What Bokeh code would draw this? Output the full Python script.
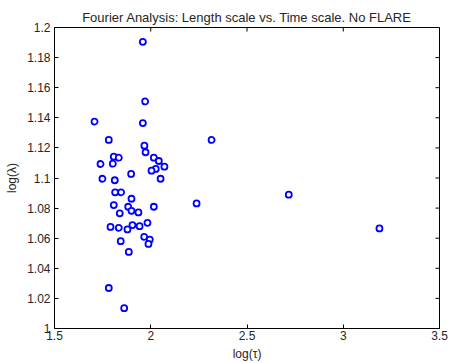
import math
from bokeh.plotting import figure
from bokeh.models import Range1d, FixedTicker, Title
from bokeh.embed import file_html
from bokeh.resources import INLINE

log_tau = [1.959, 1.971, 1.708, 1.959, 1.782, 2.316, 1.967, 1.973, 1.739, 1.808,
           1.834, 1.803, 2.016, 2.042, 2.071, 2.026, 2.004, 1.749, 1.813, 1.898,
           2.051, 1.815, 1.846, 1.900, 1.808, 1.883, 2.016, 2.238, 1.900, 1.839,
           1.936, 1.791, 1.834, 1.879, 1.905, 1.942, 1.983, 1.966, 1.995, 1.988,
           1.844, 1.886, 1.782, 1.862, 2.717, 3.188]
log_lambda = [1.1905, 1.1509, 1.1375, 1.1365, 1.1253, 1.1253, 1.1215, 1.1171, 1.1093, 1.1142,
              1.1135, 1.1095, 1.1135, 1.1113, 1.1075, 1.1060, 1.1049, 1.0995, 1.0985, 1.1027,
              1.0995, 1.0905, 1.0905, 1.0862, 1.0820, 1.0809, 1.0809, 1.0831, 1.0782, 1.0765,
              1.0771, 1.0675, 1.0669, 1.0658, 1.0687, 1.0680, 1.0702, 1.0609, 1.0591, 1.0562,
              1.0580, 1.0509, 1.0269, 1.0135, 1.0889, 1.0665]
x_ticks = [1.5, 2, 2.5, 3, 3.5]
y_ticks = [1, 1.02, 1.04, 1.06, 1.08, 1.1, 1.12, 1.14, 1.16, 1.18, 1.2]
title_text = "Fourier Analysis: Length scale vs. Time scale. No FLARE"

FONT = "Liberation Sans"
TXT = "#262626"

x0, x1 = x_ticks[0], x_ticks[-1]
y0, y1 = y_ticks[0], y_ticks[-1]

p = figure(width=450, height=363, output_backend="svg", toolbar_location=None,
           x_range=Range1d(x0, x1), y_range=Range1d(y0, y1),
           min_border_left=54, min_border_right=11, min_border_top=27, min_border_bottom=35)

p.add_layout(Title(text=title_text, align="center", text_font=FONT, text_font_size="13px",
                   text_font_style="normal", text_color=TXT, standoff=5), "above")

p.xgrid.visible = False
p.ygrid.visible = False
p.outline_line_color = "black"
p.outline_line_width = 1

for ax, ticks in ((p.xaxis[0], x_ticks), (p.yaxis[0], y_ticks)):
    ax.ticker = FixedTicker(ticks=ticks)
    ax.minor_tick_line_color = None
    ax.major_tick_in = 4
    ax.major_tick_out = 0
    ax.major_tick_line_color = "black"
    ax.axis_line_color = "black"
    ax.major_label_text_font = FONT
    ax.major_label_text_font_size = "12px"
    ax.major_label_text_color = TXT
    ax.axis_label_text_font = FONT
    ax.axis_label_text_font_size = "12px"
    ax.axis_label_text_font_style = "normal"
    ax.axis_label_text_color = TXT

p.xaxis[0].axis_label = "log(τ)"
p.yaxis[0].axis_label = "log(λ)"
p.xaxis[0].major_label_standoff = 2
p.yaxis[0].major_label_standoff = 4
p.xaxis[0].axis_label_standoff = 4
p.yaxis[0].axis_label_standoff = 5

# inward ticks on the top and right edges of the box
p.ray(x=x_ticks, y=[y1] * len(x_ticks), length=4, length_units="screen",
      angle=-math.pi / 2, line_color="black", line_width=1)
p.ray(x=[x1] * len(y_ticks), y=y_ticks, length=4, length_units="screen",
      angle=math.pi, line_color="black", line_width=1)

p.scatter(log_tau, log_lambda, marker="circle", size=6, fill_color="white",
          line_color="blue", line_width=1.8)

open("out.html", "w").write(file_html(p, INLINE))
